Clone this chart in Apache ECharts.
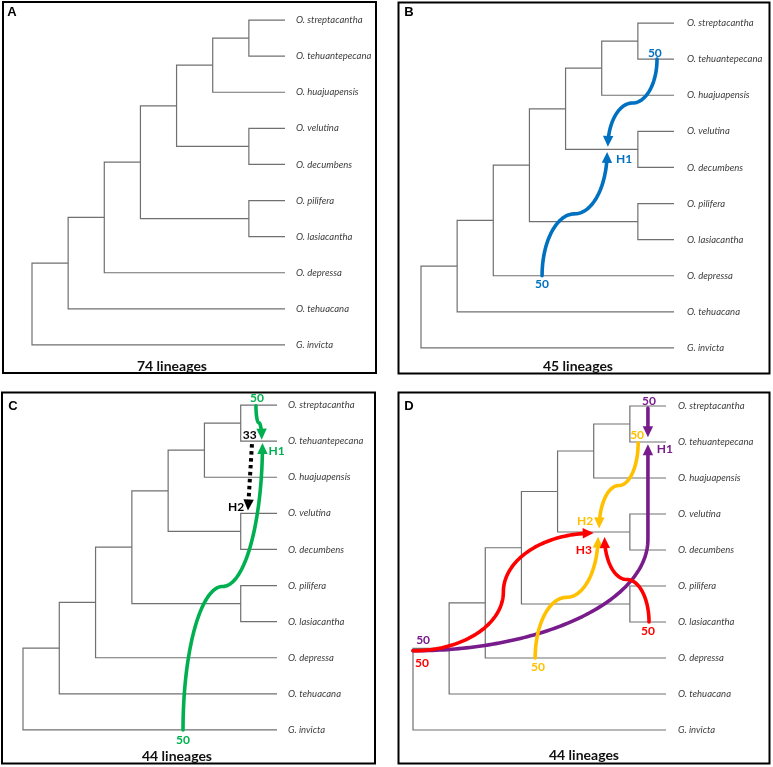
<!DOCTYPE html>
<html><head><meta charset="utf-8">
<script src="https://cdn.jsdelivr.net/npm/echarts@6/dist/echarts.min.js"></script>
<style>html,body{margin:0;padding:0;background:#fff}#c{width:773px;height:767px}</style>
</head><body><div id="c"></div>
<script>
// ---------- DATA ----------
const leaves = ['O. streptacantha','O. tehuantepecana','O. huajuapensis','O. velutina','O. decumbens',
  'O. pilifera','O. lasiacantha','O. depressa','O. tehuacana','G. invicta'];
const leafDepth = 7;
// internal clades: id, depth (node rank from root), children (leaf index or clade id)
const cladeIds = ['c1','c2','c3','c4','c5','c6','c7','c8','root'];
const cladeDepth = [6,5,6,4,6,3,2,1,0];
const cladeChildren = [[0,1],['c1',2],[3,4],['c2','c3'],[5,6],['c4','c5'],['c6',7],['c7',8],['c8',9]];

const panelLetters = ['A','B','C','D'];
const panelTitles = ['74 lineages','45 lineages','44 lineages','44 lineages'];

// hybridisation arrows per panel, in tree coordinates [depth, leaf position]
const arrowsA = [];
const arrowsB = [
  {hybrid:'H1', kind:'vsv', from:[6.53,1.0], to:[5.17,3.43]},
  {hybrid:'H1', kind:'vsv', from:[3.35,7.0], to:[5.15,3.57]}
];
const arrowsC = [
  {hybrid:'H1', kind:'vsv', from:[4.41,9.0], to:[6.6,1.05]},
  {hybrid:'H1', kind:'vsv', from:[6.42,0.02], to:[6.58,0.96]},
  {hybrid:'H2', kind:'line', from:[6.31,1.08], to:[6.2,2.92]}
];
const arrowsD = [
  {hybrid:'H1', kind:'hv', from:[0,6.8], to:[6.5,1.06], pivot:3.7},
  {hybrid:'H1', kind:'line', from:[6.5,0.06], to:[6.5,0.87]},
  {hybrid:'H2', kind:'vsv', from:[6.23,1.02], to:[5.15,3.4]},
  {hybrid:'H2', kind:'vsv', from:[3.38,7.0], to:[5.12,3.63]},
  {hybrid:'H3', kind:'hsh', from:[0,6.8], to:[5.0,3.53]},
  {hybrid:'H3', kind:'vsv', from:[6.53,6.0], to:[5.3,3.64]}
];
// numeric / hybrid annotations
const notesA = [];
const notesB = [
  {text:'50', hybrid:'H1', at:[6.47,0.82]},
  {text:'50', hybrid:'H1', at:[3.35,7.23]},
  {text:'H1', hybrid:'H1', at:[5.62,3.77]}
];
const notesC = [
  {text:'50', hybrid:'H1', at:[6.45,-0.18]},
  {text:'50', hybrid:'H1', at:[4.41,9.27]},
  {text:'H1', hybrid:'H1', at:[6.99,1.27]},
  {text:'33', hybrid:'H2', at:[6.25,0.84]},
  {text:'H2', hybrid:'H2', at:[5.87,2.84]}
];
const notesD = [
  {text:'50', hybrid:'H1', at:[6.53,-0.14]},
  {text:'50', hybrid:'H1', at:[0.28,6.5]},
  {text:'H1', hybrid:'H1', at:[6.97,1.19]},
  {text:'50', hybrid:'H2', at:[6.2,0.81]},
  {text:'50', hybrid:'H2', at:[3.46,7.25]},
  {text:'H2', hybrid:'H2', at:[4.76,3.19]},
  {text:'50', hybrid:'H3', at:[0.25,7.14]},
  {text:'50', hybrid:'H3', at:[6.5,6.25]},
  {text:'H3', hybrid:'H3', at:[4.73,4.0]}
];

// ---------- STYLE / LAYOUT ----------
const hybridColours = [{}, {H1:'#0070c0'}, {H1:'#00b050', H2:'#000000'}, {H1:'#781c8c', H2:'#ffc000', H3:'#ff0000'}];
const dottedHybrids = [[], [], ['H2'], []];
const panelGrids = [
  {left:32, top:2, width:253, height:361},
  {left:421, top:5, width:253, height:361},
  {left:23, top:387, width:254, height:361},
  {left:413, top:388, width:253, height:360}
];
const frames = [[3,2,373,371],[398.5,2.5,371,371],[2,392.5,373,371],[398.5,392.5,371,371]];
const letterPos = [[12,12],[409,12],[13,406],[409,406]];
const titlePos = [[172,366],[578,366],[177,756],[584,755]];
const labelMargin = [11,13,11,12];
const FONT = 'Lato, "Open Sans", sans-serif';

// ---------- TREE GEOMETRY ----------
const cladeY = {};
function nodePos(c) {
  if (typeof c === 'number') return [leafDepth, c];
  const i = cladeIds.indexOf(c);
  if (!(c in cladeY)) {
    const a = nodePos(cladeChildren[i][0]), b = nodePos(cladeChildren[i][1]);
    cladeY[c] = (a[1] + b[1]) / 2;
  }
  return [cladeDepth[i], cladeY[c]];
}
const cladeData = cladeIds.map(id => nodePos(id));

function treeRender(params, api) {
  const i = params.dataIndex;
  const d = api.value(0);
  const a = nodePos(cladeChildren[i][0]), b = nodePos(cladeChildren[i][1]);
  const pts = [api.coord(a), api.coord([d, a[1]]), api.coord([d, b[1]]), api.coord(b)];
  return {type:'polyline', shape:{points:pts}, style:{stroke:'#707070', lineWidth:1.2, fill:'none'}};
}

function curvePoints(kind, p0, p3, pv) {
  const N = 48, pts = [];
  const mx = (p0[0] + p3[0]) / 2, my = (p0[1] + p3[1]) / 2;
  const H = Math.PI / 2;
  if (kind === 'vsv') {
    for (let i = 0; i <= N; i++) { const t = i / N * H;
      pts.push([p0[0] + (mx - p0[0]) * (1 - Math.cos(t)), p0[1] + (my - p0[1]) * Math.sin(t)]); }
    for (let i = 1; i <= N; i++) { const t = i / N * H;
      pts.push([mx + (p3[0] - mx) * Math.sin(t), my + (p3[1] - my) * (1 - Math.cos(t))]); }
  } else if (kind === 'hsh') {
    for (let i = 0; i <= N; i++) { const t = i / N * H;
      pts.push([p0[0] + (mx - p0[0]) * Math.sin(t), p0[1] + (my - p0[1]) * (1 - Math.cos(t))]); }
    for (let i = 1; i <= N; i++) { const t = i / N * H;
      pts.push([mx + (p3[0] - mx) * (1 - Math.cos(t)), my + (p3[1] - my) * Math.sin(t)]); }
  } else if (kind === 'hv') {
    for (let i = 0; i <= N * 2; i++) { const t = i / (N * 2) * H;
      pts.push([p0[0] + (p3[0] - p0[0]) * Math.sin(t), p0[1] + (pv[1] - p0[1]) * (1 - Math.cos(t))]); }
    pts.push(p3.slice());
  } else {
    pts.push(p0.slice(), p3.slice());
  }
  return pts;
}

function makeArrowRender(arrows, panel) {
  return function (params, api) {
    const a = arrows[params.dataIndex];
    const colour = hybridColours[panel][a.hybrid];
    const dotted = dottedHybrids[panel].indexOf(a.hybrid) >= 0;
    const p0 = api.coord(a.from), p3 = api.coord(a.to);
    const pv = a.pivot != null ? api.coord([a.to[0], a.pivot]) : null;
    let pts = curvePoints(a.kind, p0, p3, pv);
    const tip = pts[pts.length - 1];
    let k = pts.length - 2;
    while (k > 0 && Math.hypot(tip[0] - pts[k][0], tip[1] - pts[k][1]) < 3) k--;
    let dx = tip[0] - pts[k][0], dy = tip[1] - pts[k][1];
    const len = Math.hypot(dx, dy) || 1; dx /= len; dy /= len;
    const L = 11, W = 5.2;
    const base = [tip[0] - dx * L, tip[1] - dy * L];
    const cut = L * 0.6;
    let body = pts.filter(p => Math.hypot(tip[0] - p[0], tip[1] - p[1]) > cut);
    if (a.kind === 'line' || a.kind === 'hv') body = pts.slice(0, -1);
    body.push([tip[0] - dx * cut, tip[1] - dy * cut]);
    const tri = [tip, [base[0] - dy * W, base[1] + dx * W], [base[0] + dy * W, base[1] - dx * W]];
    return {type:'group', children:[
      {type:'polyline', shape:{points:body}, style:{stroke:colour, lineWidth: dotted ? 4 : 3.6, fill:'none',
        lineDash: dotted ? [3.5, 3.5] : null, lineCap: dotted ? 'butt' : 'round', lineJoin:'round'}},
      {type:'polygon', shape:{points:tri}, style:{fill:colour}}
    ]};
  };
}

function makeNoteRender(notes, panel) {
  return function (params, api) {
    const n = notes[params.dataIndex];
    const p = api.coord(n.at);
    return {type:'text', x:p[0], y:p[1], style:{text:n.text, fill:hybridColours[panel][n.hybrid],
      fontSize:12, fontWeight:'bold', fontFamily:FONT, align:'center', verticalAlign:'middle'}};
  };
}

// ---------- OPTION ----------
const allArrows = [arrowsA, arrowsB, arrowsC, arrowsD];
const allNotes = [notesA, notesB, notesC, notesD];
const grid = [], xAxis = [], yAxis = [], series = [], graphic = [];
for (let p = 0; p < 4; p++) {
  grid.push(Object.assign({containLabel:false, show:false}, panelGrids[p]));
  xAxis.push({type:'value', gridIndex:p, min:0, max:leafDepth, show:false});
  yAxis.push({type:'value', gridIndex:p, min:-0.5, max:9.5, inverse:true, show:false});
  yAxis.push({type:'category', gridIndex:p, position:'right', inverse:true, data:leaves,
    axisLine:{show:false}, axisTick:{show:false}, splitLine:{show:false},
    axisLabel:{margin:labelMargin[p], fontStyle:'italic', fontSize:9.5, color:'#3c3c3c', fontFamily:FONT}});
  series.push({type:'custom', name:'tree' + panelLetters[p], xAxisIndex:p, yAxisIndex:2 * p,
    data:cladeData, renderItem:treeRender, silent:true});
  if (allArrows[p].length) {
    series.push({type:'custom', name:'arrows' + panelLetters[p], xAxisIndex:p, yAxisIndex:2 * p,
      data:allArrows[p].map(a => a.to), renderItem:makeArrowRender(allArrows[p], p), silent:true, z:3});
    series.push({type:'custom', name:'notes' + panelLetters[p], xAxisIndex:p, yAxisIndex:2 * p,
      data:allNotes[p].map(n => n.at), renderItem:makeNoteRender(allNotes[p], p), silent:true, z:4});
  }
  const f = frames[p];
  graphic.push({type:'rect', shape:{x:f[0], y:f[1], width:f[2], height:f[3]}, style:{fill:'none', stroke:'#000', lineWidth:2}, z:10});
  graphic.push({type:'text', x:letterPos[p][0], y:letterPos[p][1], style:{text:panelLetters[p], fontSize:13, fontWeight:'bold',
    fontFamily:'"Liberation Sans", Arial, sans-serif', fill:'#000', align:'center', verticalAlign:'middle'}});
  graphic.push({type:'text', x:titlePos[p][0], y:titlePos[p][1], style:{text:panelTitles[p], fontSize:14, fontWeight:'bold',
    fontFamily:FONT, fill:'#111', align:'center', verticalAlign:'middle'}});
}
const chart = echarts.init(document.getElementById('c'));
chart.setOption({animation:false, backgroundColor:'#fff', grid, xAxis, yAxis, series, graphic});
</script></body></html>
